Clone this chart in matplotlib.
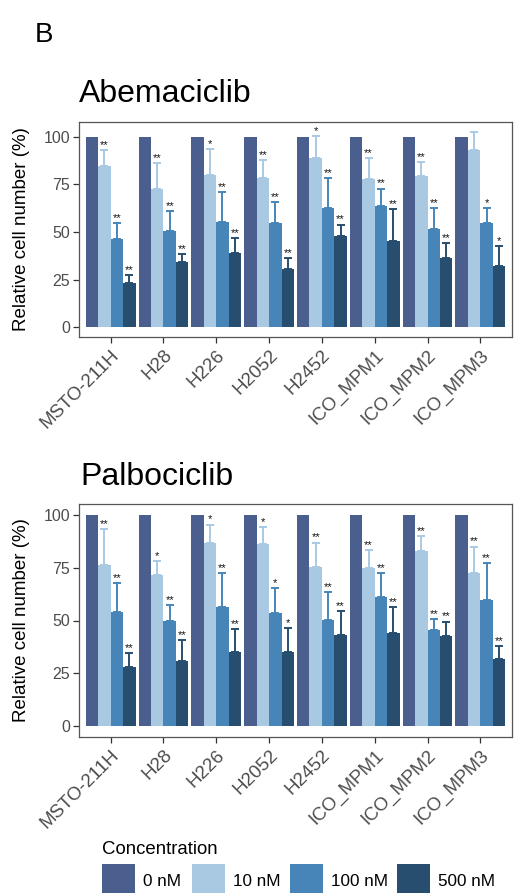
import numpy as np
import matplotlib
matplotlib.use("Agg")
import matplotlib.pyplot as plt
import matplotlib.transforms as mtransforms
from matplotlib.patches import Rectangle

plt.rcParams['font.family'] = ['Liberation Sans', 'DejaVu Sans']

W, H = 515, 893

cell_lines = ['MSTO-211H', 'H28', 'H226', 'H2052', 'H2452', 'ICO_MPM1', 'ICO_MPM2', 'ICO_MPM3']
concentrations = ['0 nM', '10 nM', '100 nM', '500 nM']
colors = ['#4a5f8e', '#a9c9e3', '#4785b9', '#284e6f']

# Abemaciclib: mean relative cell number (%) and upper error (SD)
abema_mean = {
    '0 nM': [100, 100, 100, 100, 100, 100, 100, 100],
    '10 nM': [84.4, 72.8, 80.1, 78.5, 88.9, 77.8, 79.4, 93.1],
    '100 nM': [46.4, 50.6, 55.1, 54.8, 62.6, 63.8, 51.5, 54.6],
    '500 nM': [23.0, 34.1, 39.2, 30.7, 47.7, 45.1, 36.4, 32.4],
}
abema_sd = {
    '10 nM': [8.7, 13.3, 13.3, 9.5, 11.4, 11.1, 7.1, 9.5],
    '100 nM': [8.2, 10.6, 16.0, 11.1, 15.7, 9.0, 10.9, 7.8],
    '500 nM': [4.6, 4.2, 7.4, 5.7, 6.2, 16.8, 7.8, 10.4],
}
abema_sig = {
    '10 nM': ['**', '**', '*', '**', '*', '**', '**', ''],
    '100 nM': ['**', '**', '**', '**', '**', '**', '**', '*'],
    '500 nM': ['**', '**', '**', '**', '**', '**', '**', '*'],
}

# Palbociclib
palbo_mean = {
    '0 nM': [100, 100, 100, 100, 100, 100, 100, 100],
    '10 nM': [76.1, 71.3, 86.7, 86.2, 75.4, 74.7, 82.6, 72.5],
    '100 nM': [54.0, 49.6, 56.2, 53.7, 50.1, 61.1, 45.7, 59.8],
    '500 nM': [28.1, 30.8, 35.2, 34.9, 43.0, 44.3, 42.5, 31.7],
}
palbo_sd = {
    '10 nM': [17.0, 6.9, 8.6, 8.0, 11.4, 8.7, 7.4, 12.4],
    '100 nM': [13.5, 7.7, 16.3, 11.6, 13.3, 11.1, 4.8, 17.4],
    '500 nM': [6.4, 10.0, 10.6, 11.4, 11.3, 12.2, 7.0, 6.3],
}
palbo_sig = {
    '10 nM': ['**', '*', '*', '*', '**', '**', '**', '**'],
    '100 nM': ['**', '**', '**', '*', '**', '**', '**', '**'],
    '500 nM': ['**', '**', '**', '*', '**', '**', '**', '**'],
}


def px_rect(left, top, right, bottom):
    return [left / W, 1 - bottom / H, (right - left) / W, (bottom - top) / H]


def draw_panel(fig, ax, means, sds, sigs):
    x = np.arange(1, len(cell_lines) + 1)
    w = 0.235
    top = 0
    for k, conc in enumerate(concentrations):
        xs = x + (k - 1.5) * w
        vals = np.array(means[conc])
        ax.bar(xs, vals, width=w, color=colors[k], edgecolor='none', zorder=2)
        if conc in sds:
            err = np.array(sds[conc])
            ax.errorbar(xs, vals, yerr=[np.zeros_like(err), err], fmt='none',
                        ecolor=colors[k], elinewidth=1.4, capsize=2.6,
                        capthick=1.4, zorder=3)
            top = max(top, (vals + err).max())
            for xi, yi, s in zip(xs, vals + err, sigs[conc]):
                if s:
                    ax.annotate(s, (xi, yi), xytext=(0, 0), textcoords='offset points',
                                ha='center', va='bottom', fontsize=8, color='#111111')
        top = max(top, vals.max())
    ax.set_xlim(0.4, len(cell_lines) + 0.6)
    ax.set_ylim(-0.05 * top, 1.05 * top)
    ax.set_yticks([0, 25, 50, 75, 100])
    ax.set_xticks(x)
    ax.set_xticklabels(cell_lines, rotation=45, ha='right', va='top',
                       rotation_mode='anchor', fontsize=13.5, color='#4d4d4d')
    shift = mtransforms.ScaledTranslation(4 / 100, -4 / 100, fig.dpi_scale_trans)
    for lab in ax.get_xticklabels():
        lab.set_transform(lab.get_transform() + shift)
    ax.tick_params(axis='y', labelsize=11.5, labelcolor='#4d4d4d', length=4,
                   width=0.9, color='#333333', pad=2.5)
    ax.tick_params(axis='x', length=4, width=0.9, color='#333333', pad=3)
    for sp in ax.spines.values():
        sp.set_color('#555555')
        sp.set_linewidth(0.9)


fig = plt.figure(figsize=(W / 100, H / 100), dpi=100)

ax1 = fig.add_axes(px_rect(79, 122, 512, 337))
draw_panel(fig, ax1, abema_mean, abema_sd, abema_sig)
ax2 = fig.add_axes(px_rect(79, 504, 512, 737))
draw_panel(fig, ax2, palbo_mean, palbo_sd, palbo_sig)

fig.text(35 / W, 1 - 42 / H, 'B', fontsize=20, va='baseline', ha='left')
fig.text(79 / W, 1 - 102 / H, 'Abemaciclib', fontsize=23, va='baseline', ha='left')
fig.text(80 / W, 1 - 485 / H, 'Palbociclib', fontsize=23, va='baseline', ha='left')
for yc in [(122 + 337) / 2, (504 + 737) / 2]:
    fig.text(22 / W, 1 - yc / H, 'Relative cell number (%)', fontsize=13.5,
             rotation=90, ha='center', va='center')

# legend
fig.text(102 / W, 1 - 854 / H, 'Concentration', fontsize=13.4, va='baseline', ha='left')
key_left = [102, 192, 290, 397]
for k, conc in enumerate(concentrations):
    fig.add_artist(Rectangle((key_left[k] / W, 1 - 897 / H), 33 / W, 33 / H,
                             transform=fig.transFigure, facecolor=colors[k],
                             edgecolor='none'))
    fig.text((key_left[k] + 41) / W, 1 - 882 / H, conc, fontsize=12.3,
             va='center', ha='left')

fig.savefig('out.png', dpi=100)
